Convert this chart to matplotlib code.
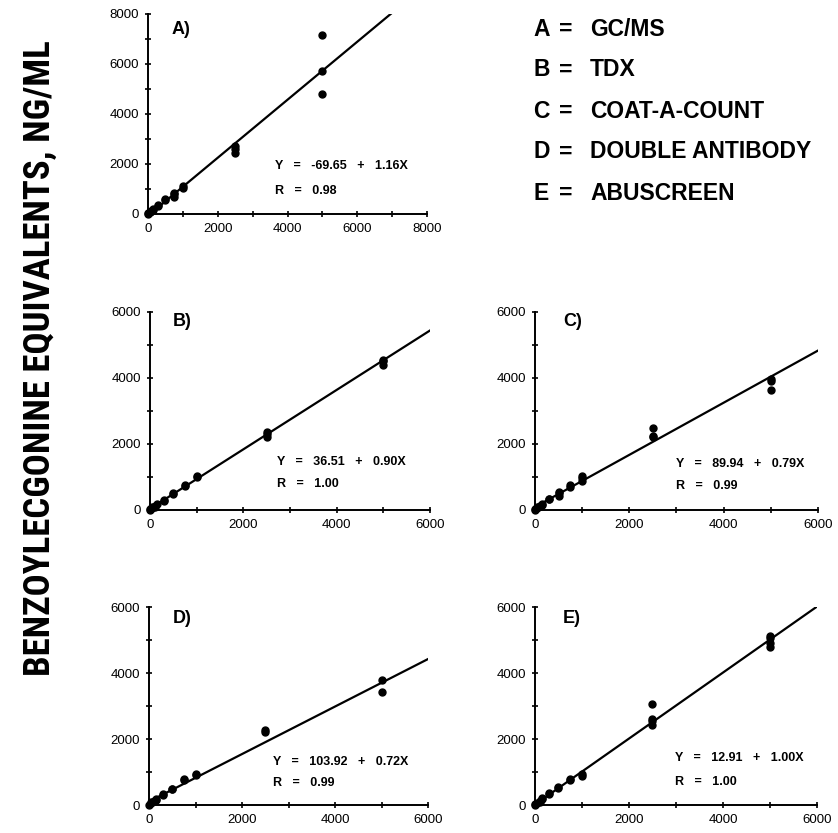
import matplotlib
matplotlib.use("Agg")
import matplotlib.pyplot as plt
from matplotlib import font_manager
from matplotlib.ticker import MultipleLocator

plt.rcParams['font.family'] = ['Liberation Sans', 'DejaVu Sans']

# spiked concentrations (ng/mL) and the measured values per method
conc_a = [0, 0, 50, 50, 100, 100, 150, 150, 300, 300, 500, 500, 750, 750, 750,
          1000, 1000, 2500, 2500, 2500, 5000, 5000, 5000]
meas_a = [0, 20, 60, 80, 100, 130, 170, 200, 330, 370, 540, 580, 680, 780, 830,
          1030, 1100, 2450, 2600, 2700, 7150, 5700, 4800]

conc_b = [0, 0, 50, 50, 100, 100, 150, 300, 300, 500, 500, 750, 750,
          1000, 1000, 2500, 2500, 2500, 5000, 5000, 5000]
meas_b = [0, 20, 60, 80, 120, 100, 170, 300, 280, 490, 510, 730, 770,
          1000, 1040, 2200, 2300, 2350, 4400, 4500, 4550]

conc_c = [0, 0, 50, 50, 100, 100, 150, 150, 300, 300, 500, 500, 500, 750, 750,
          1000, 1000, 1000, 2500, 2500, 2500, 5000, 5000, 5000]
meas_c = [0, 30, 60, 90, 130, 110, 150, 190, 320, 340, 430, 500, 540, 700, 760,
          880, 960, 1040, 2200, 2250, 2480, 3650, 3920, 3980]

conc_d = [0, 50, 50, 100, 150, 150, 300, 300, 500, 500, 750, 750,
          1000, 1000, 2500, 2500, 5000, 5000]
meas_d = [0, 50, 80, 120, 160, 180, 290, 320, 480, 500, 760, 780,
          900, 940, 2200, 2260, 3800, 3430]

conc_e = [0, 0, 50, 100, 100, 150, 150, 300, 300, 500, 500, 750, 750,
          1000, 1000, 2500, 2500, 2500, 2500, 5000, 5000, 5000, 5000]
meas_e = [0, 20, 60, 120, 90, 170, 200, 340, 370, 520, 560, 750, 780,
          880, 930, 2420, 2550, 2620, 3070, 4780, 4900, 5050, 5120]

intercepts = [-69.65, 36.51, 89.94, 103.92, 12.91]
slopes = [1.16, 0.90, 0.79, 0.72, 1.00]
r_values = [0.98, 1.00, 0.99, 0.99, 1.00]
panel_labels = ['A)', 'B)', 'C)', 'D)', 'E)']
axis_max = [8000, 6000, 6000, 6000, 6000]

method_letters = ['A', 'B', 'C', 'D', 'E']
method_names = ['GC/MS', 'TDX', 'COAT-A-COUNT', 'DOUBLE ANTIBODY', 'ABUSCREEN']

ylabel = 'BENZOYLECGONINE EQUIVALENTS, NG/ML'

fig = plt.figure(figsize=(8.38, 8.33), dpi=100)

# axes rectangles (left, bottom, width, height) in figure fraction
rects = [
    [0.1766, 0.7431, 0.333, 0.2401],
    [0.1790, 0.3878, 0.334, 0.2377],
    [0.6384, 0.3878, 0.3377, 0.2377],
    [0.1778, 0.0336, 0.333, 0.2377],
    [0.6384, 0.0336, 0.3365, 0.2377],
]
label_pos = [(0.086, 0.92), (0.082, 0.95), (0.10, 0.95), (0.086, 0.944), (0.10, 0.944)]
eq_pos = [(0.455, 0.24, 0.115), (0.454, 0.242, 0.13), (0.50, 0.233, 0.12),
          (0.445, 0.217, 0.11), (0.496, 0.237, 0.116)]

data = [(conc_a, meas_a), (conc_b, meas_b), (conc_c, meas_c),
        (conc_d, meas_d), (conc_e, meas_e)]

for i, (xs, ys) in enumerate(data):
    ax = fig.add_axes(rects[i])
    top = axis_max[i]
    ax.plot(xs, ys, 'o', color='black', markersize=5, clip_on=False, zorder=3)
    lx = [0, top]
    ax.plot(lx, [intercepts[i] + slopes[i] * v for v in lx], color='black', lw=1.6)
    ax.set_xlim(0, top)
    ax.set_ylim(0, top)
    for s in ['top', 'right']:
        ax.spines[s].set_visible(False)
    for s in ['left', 'bottom']:
        ax.spines[s].set_linewidth(1.4)
    ax.xaxis.set_major_locator(MultipleLocator(2000))
    ax.yaxis.set_major_locator(MultipleLocator(2000))
    ax.xaxis.set_minor_locator(MultipleLocator(1000))
    ax.yaxis.set_minor_locator(MultipleLocator(1000))
    ax.tick_params(which='both', direction='inout', width=1.2, labelsize=9.5)
    ax.tick_params(which='major', length=5, pad=4)
    ax.tick_params(which='minor', length=4)
    ax.text(label_pos[i][0], label_pos[i][1], panel_labels[i], transform=ax.transAxes,
            fontsize=13, fontweight='bold', va='center', ha='left')
    ex, ey, ry = eq_pos[i]
    ax.text(ex, ey, f'Y   =   {intercepts[i]:.2f}   +   {slopes[i]:.2f}X', transform=ax.transAxes,
            fontsize=9, fontweight='bold', va='center', ha='left')
    ax.text(ex, ry, f'R   =   {r_values[i]:.2f}', transform=ax.transAxes,
            fontsize=9, fontweight='bold', va='center', ha='left')

# method key
key_y = [29, 70, 111, 152, 193]
for letter, name, y in zip(method_letters, method_names, key_y):
    fy = 1 - y / 833
    fig.text(533 / 838, fy, letter, fontsize=16.5, fontweight='bold', va='center', ha='left')
    fig.text(559 / 838, fy, '=', fontsize=16.5, fontweight='bold', va='center', ha='left')
    fig.text(590 / 838, fy, name, fontsize=16.5, fontweight='bold', va='center', ha='left')

# y label: prefer a condensed face if one is installed, then fit to the reference length
installed = {f.name for f in font_manager.fontManager.ttflist}
label_family = 'Liberation Sans'
for cand in ['Liberation Sans Narrow', 'DejaVu Sans Condensed', 'Roboto Condensed']:
    if cand in installed:
        label_family = cand
        break
ylab = fig.text(40 / 838, 1 - 358 / 833, ylabel, rotation=90, fontsize=27, fontweight='bold',
                va='center', ha='center', family=[label_family, 'DejaVu Sans'])
renderer = fig.canvas.get_renderer()
h = ylab.get_window_extent(renderer).height
ylab.set_fontsize(27 * 635 / h)

fig.savefig('out.png', dpi=100)
